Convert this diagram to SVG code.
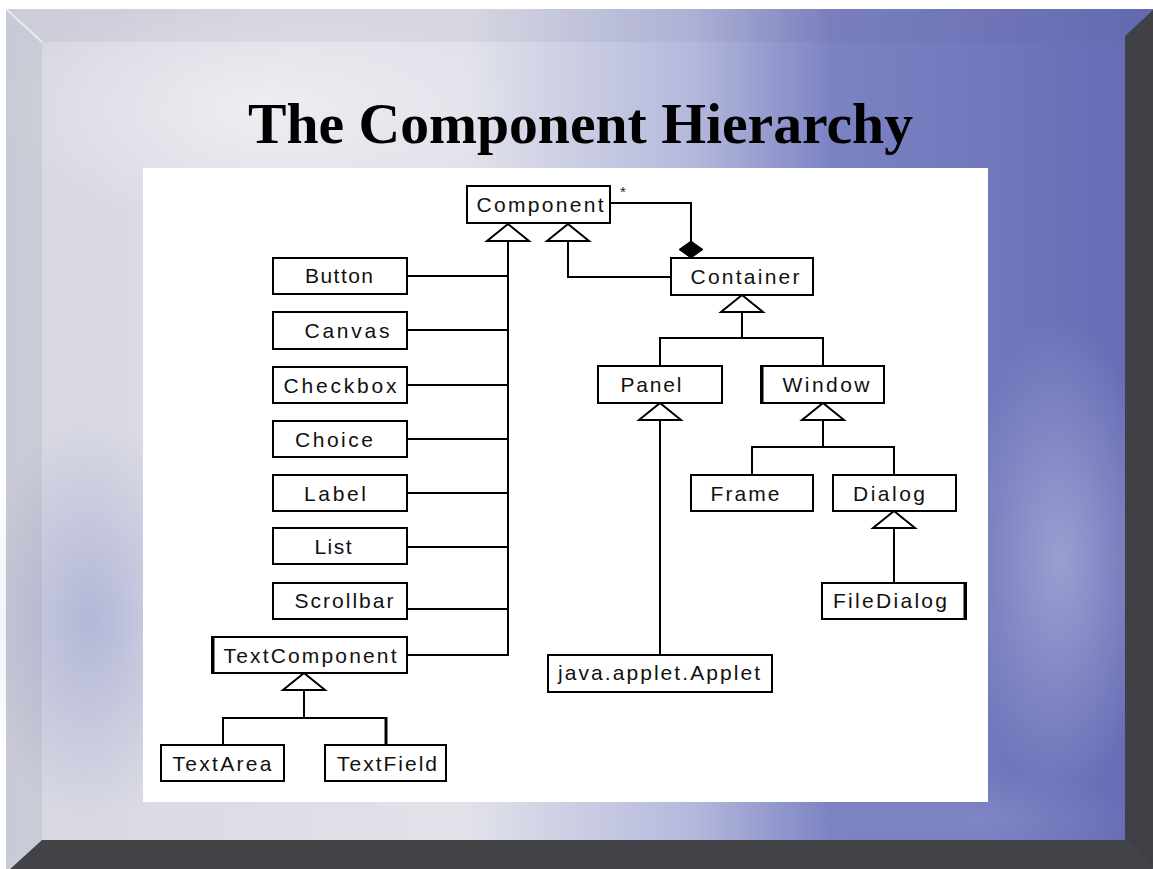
<svg xmlns="http://www.w3.org/2000/svg" xmlns:xlink="http://www.w3.org/1999/xlink" width="1153" height="869" viewBox="0 0 1153 869">
<defs>
  <linearGradient id="bg" x1="0" y1="0" x2="1" y2="0">
    <stop offset="0" stop-color="#d6d7e1"/>
    <stop offset="0.4" stop-color="#e1e2ea"/>
    <stop offset="0.6" stop-color="#b4b8dc"/>
    <stop offset="0.72" stop-color="#7c83c3"/>
    <stop offset="1" stop-color="#646bb4"/>
  </linearGradient>
  <radialGradient id="cloudLight" cx="0.5" cy="0.5" r="0.5">
    <stop offset="0" stop-color="#ffffff" stop-opacity="0.5"/>
    <stop offset="1" stop-color="#ffffff" stop-opacity="0"/>
  </radialGradient>
  <radialGradient id="cloudBlue" cx="0.5" cy="0.5" r="0.5">
    <stop offset="0" stop-color="#8e94cc" stop-opacity="0.5"/>
    <stop offset="1" stop-color="#8e94cc" stop-opacity="0"/>
  </radialGradient>
  <radialGradient id="cloudPale" cx="0.5" cy="0.5" r="0.5">
    <stop offset="0" stop-color="#aeb2db" stop-opacity="0.7"/>
    <stop offset="1" stop-color="#aeb2db" stop-opacity="0"/>
  </radialGradient>
  <path id="tri" d="M0,0 L21,17 L-21,17 Z" fill="#ffffff" stroke="#000000" stroke-width="2" stroke-linejoin="miter"/>
  <style>
    .box { fill: #ffffff; stroke: #000000; stroke-width: 2; }
    .lbl { font-family: "Liberation Sans", Arial, sans-serif; font-size: 21px; fill: #111111; text-anchor: middle; }
    .conn { fill: none; stroke: #000000; stroke-width: 2; }
    .thick { fill: none; stroke: #000000; stroke-width: 3; }
    .title { font-family: "Liberation Serif", "Times New Roman", serif; font-weight: bold; font-size: 58px; fill: #000000; }
  </style>
</defs>

<!-- slide background and frame -->
<rect x="0" y="0" width="1153" height="869" fill="#ffffff"/>
<rect x="6" y="9" width="1147" height="860" fill="url(#bg)"/>
<ellipse cx="260" cy="110" rx="260" ry="120" fill="url(#cloudLight)"/>
<ellipse cx="90" cy="620" rx="110" ry="200" fill="url(#cloudBlue)"/>
<ellipse cx="1060" cy="560" rx="100" ry="240" fill="url(#cloudPale)"/>
<ellipse cx="980" cy="820" rx="160" ry="50" fill="url(#cloudBlue)"/>
<polygon points="6,9 42,42 42,840 8,869 6,869" fill="#7a7c90" fill-opacity="0.14"/>
<polygon points="6,9 1153,9 1125,42 42,42" fill="#5a5c80" fill-opacity="0.08"/>
<line x1="6" y1="9" x2="42" y2="42" stroke="#ffffff" stroke-opacity="0.6" stroke-width="2"/>
<polygon points="1125,36 1153,10 1153,869 1125,840" fill="#404146"/>
<polygon points="42,840 1125,840 1153,869 10,869" fill="#424347"/>

<!-- white diagram panel -->
<rect x="143" y="168" width="845" height="634" fill="#ffffff"/>

<text class="title" x="248" y="143" textLength="665" lengthAdjust="spacingAndGlyphs">The Component Hierarchy</text>

<!-- connectors -->
<g id="connectors">
  <!-- Component trunk -->
  <use xlink:href="#tri" x="508" y="224"/>
  <line class="conn" x1="508" y1="241" x2="508" y2="655"/>
  <line class="conn" x1="407" y1="276" x2="508" y2="276"/>
  <line class="conn" x1="407" y1="330" x2="508" y2="330"/>
  <line class="conn" x1="407" y1="385" x2="508" y2="385"/>
  <line class="conn" x1="407" y1="439" x2="508" y2="439"/>
  <line class="conn" x1="407" y1="493" x2="508" y2="493"/>
  <line class="conn" x1="407" y1="547" x2="508" y2="547"/>
  <line class="conn" x1="407" y1="609" x2="508" y2="609"/>
  <line class="conn" x1="407" y1="655" x2="509" y2="655"/>
  <!-- Container to Component -->
  <use xlink:href="#tri" x="568" y="224"/>
  <polyline class="conn" points="568,241 568,277 671,277"/>
  <!-- aggregation -->
  <polyline class="conn" points="610,203 691,203 691,242"/>
  <polygon points="691,241 703,249.5 691,258 679,249.5" fill="#000000" stroke="#000000" stroke-width="1"/>
  <!-- Container children -->
  <use xlink:href="#tri" x="742" y="295"/>
  <line class="conn" x1="742" y1="312" x2="742" y2="338"/>
  <polyline class="conn" points="660,366 660,338 823,338 823,366"/>
  <!-- Panel to Applet -->
  <use xlink:href="#tri" x="660" y="403"/>
  <line class="conn" x1="660" y1="420" x2="660" y2="655"/>
  <!-- Window children -->
  <use xlink:href="#tri" x="823" y="403"/>
  <line class="conn" x1="823" y1="420" x2="823" y2="447"/>
  <polyline class="conn" points="752,475 752,447 894,447 894,475"/>
  <!-- Dialog to FileDialog -->
  <use xlink:href="#tri" x="894" y="511"/>
  <line class="conn" x1="894" y1="528" x2="894" y2="583"/>
  <!-- TextComponent children -->
  <use xlink:href="#tri" x="304" y="673"/>
  <line class="conn" x1="304" y1="690" x2="304" y2="718"/>
  <polyline class="conn" points="223,745 223,718 386,718"/>
  <line class="thick" x1="386" y1="717" x2="386" y2="745"/>
</g>

<!-- nodes -->
<g id="node-component">
  <rect class="box" x="467" y="186" width="143" height="37"/>
  <text class="lbl" x="540" y="212" textLength="127" lengthAdjust="spacing">Component</text>
  <text x="623" y="197" font-family="Liberation Sans, Arial, sans-serif" font-size="15" fill="#222222" text-anchor="middle">*</text>
</g>
<g id="node-container">
  <rect class="box" x="671" y="258" width="142" height="37"/>
  <text class="lbl" x="745" y="284" textLength="109" lengthAdjust="spacing">Container</text>
</g>
<g id="node-button">
  <rect class="box" x="273" y="258" width="134" height="36"/>
  <text class="lbl" x="339" y="283" textLength="68" lengthAdjust="spacing">Button</text>
</g>
<g id="node-canvas">
  <rect class="box" x="273" y="312" width="134" height="37"/>
  <text class="lbl" x="347" y="338" textLength="85" lengthAdjust="spacing">Canvas</text>
</g>
<g id="node-checkbox">
  <rect class="box" x="273" y="367" width="134" height="36"/>
  <text class="lbl" x="340" y="393" textLength="113" lengthAdjust="spacing">Checkbox</text>
</g>
<g id="node-choice">
  <rect class="box" x="273" y="421" width="134" height="36"/>
  <text class="lbl" x="334" y="447" textLength="78" lengthAdjust="spacing">Choice</text>
</g>
<g id="node-label">
  <rect class="box" x="273" y="475" width="134" height="36"/>
  <text class="lbl" x="335" y="501" textLength="62" lengthAdjust="spacing">Label</text>
</g>
<g id="node-list">
  <rect class="box" x="273" y="528" width="134" height="36"/>
  <text class="lbl" x="333" y="554" textLength="37" lengthAdjust="spacing">List</text>
</g>
<g id="node-scrollbar">
  <rect class="box" x="273" y="583" width="134" height="36"/>
  <text class="lbl" x="344" y="608" textLength="99" lengthAdjust="spacing">Scrollbar</text>
</g>
<g id="node-textcomponent">
  <rect class="box" x="212" y="637" width="195" height="36"/>
  <line class="thick" x1="213" y1="636" x2="213" y2="674"/>
  <text class="lbl" x="310" y="663" textLength="173" lengthAdjust="spacing">TextComponent</text>
</g>
<g id="node-textarea">
  <rect class="box" x="161" y="745" width="123" height="36"/>
  <text class="lbl" x="222" y="771" textLength="99" lengthAdjust="spacing">TextArea</text>
</g>
<g id="node-textfield">
  <rect class="box" x="325" y="745" width="121" height="36"/>
  <text class="lbl" x="387" y="771" textLength="100" lengthAdjust="spacing">TextField</text>
</g>
<g id="node-panel">
  <rect class="box" x="598" y="366" width="124" height="37"/>
  <text class="lbl" x="651" y="392" textLength="61" lengthAdjust="spacing">Panel</text>
</g>
<g id="node-window">
  <rect class="box" x="761" y="366" width="123" height="37"/>
  <line class="thick" x1="762" y1="365" x2="762" y2="404"/>
  <text class="lbl" x="826" y="392" textLength="87" lengthAdjust="spacing">Window</text>
</g>
<g id="node-frame">
  <rect class="box" x="691" y="475" width="122" height="36"/>
  <text class="lbl" x="745" y="501" textLength="69" lengthAdjust="spacing">Frame</text>
</g>
<g id="node-dialog">
  <rect class="box" x="833" y="475" width="123" height="36"/>
  <text class="lbl" x="889" y="501" textLength="72" lengthAdjust="spacing">Dialog</text>
</g>
<g id="node-filedialog">
  <rect class="box" x="822" y="583" width="144" height="36"/>
  <line class="thick" x1="965" y1="582" x2="965" y2="620"/>
  <text class="lbl" x="890" y="608" textLength="114" lengthAdjust="spacing">FileDialog</text>
</g>
<g id="node-applet">
  <rect class="box" x="548" y="655" width="224" height="37"/>
  <text class="lbl" x="659" y="680" textLength="202" lengthAdjust="spacing">java.applet.Applet</text>
</g>
</svg>
